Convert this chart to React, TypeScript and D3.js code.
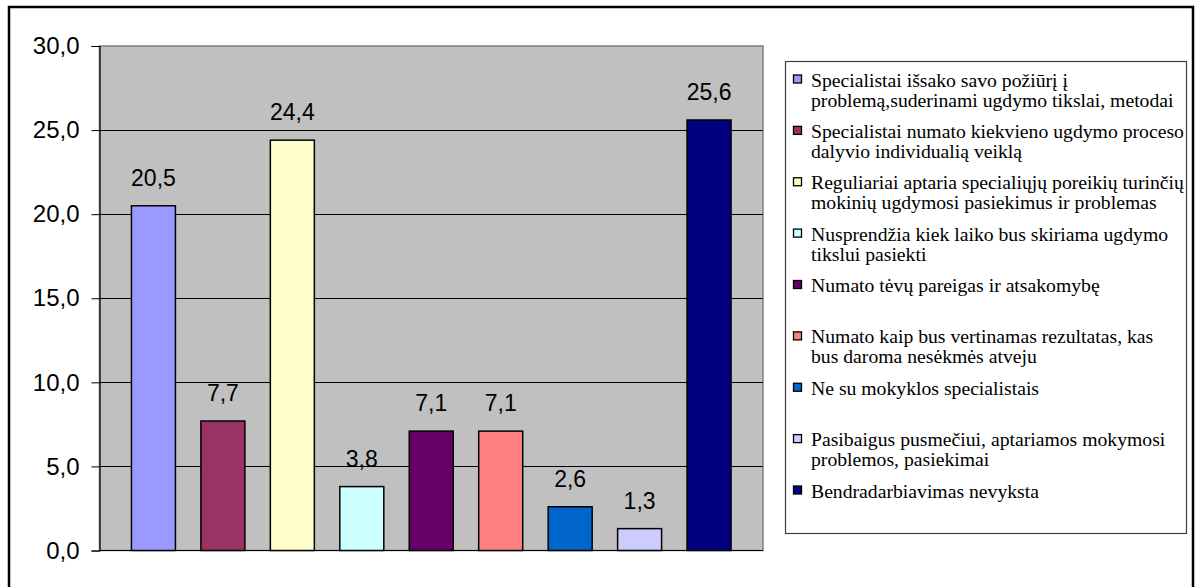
import React, { useEffect, useRef } from 'react';
import * as d3 from 'd3';

// series labels (legend) - line breaks as in the original legend
const seriesLabels = [
  'Specialistai išsako savo požiūrį į\nproblemą,suderinami ugdymo tikslai, metodai',
  'Specialistai numato kiekvieno ugdymo proceso\ndalyvio individualią veiklą',
  'Reguliariai aptaria specialiųjų poreikių turinčių\nmokinių ugdymosi pasiekimus ir problemas',
  'Nusprendžia kiek laiko bus skiriama ugdymo\ntikslui pasiekti',
  'Numato tėvų pareigas ir atsakomybę',
  'Numato kaip bus vertinamas rezultatas, kas\nbus daroma nesėkmės atveju',
  'Ne su mokyklos specialistais',
  'Pasibaigus pusmečiui, aptariamos mokymosi\nproblemos, pasiekimai',
  'Bendradarbiavimas nevyksta',
];
const seriesValues = [20.5, 7.7, 24.4, 3.8, 7.1, 7.1, 2.6, 1.3, 25.6];
const seriesColors = ['#9999FF', '#993366', '#FFFFCC', '#CCFFFF', '#660066', '#FF8080', '#0066CC', '#CCCCFF', '#000080'];
const yTicks = [0, 5, 10, 15, 20, 25, 30];

const W = 1197;
const H = 587;

const fmt = (v: number) => d3.format('.1f')(v).replace('.', ',');

const App: React.FC = () => {
  const svgRef = useRef<SVGSVGElement>(null);

  useEffect(() => {
    if (!svgRef.current) return;
    const svg = d3.select(svgRef.current);
    svg.selectAll('*').remove();

    // chart border
    svg.append('rect')
      .attr('x', 9).attr('y', 7)
      .attr('width', 1184).attr('height', 600)
      .attr('fill', '#fff')
      .attr('stroke', '#000')
      .attr('stroke-width', 2.5);

    // plot area
    const plot = { left: 99.5, right: 763, top: 46, bottom: 550.5 };

    const y = d3.scaleLinear().domain([0, 30]).range([plot.bottom, plot.top]);
    const x = d3.scaleBand<number>()
      .domain(d3.range(seriesValues.length))
      .range([plot.left, plot.right])
      .paddingInner(0.3666)
      .paddingOuter(0.46);

    svg.append('rect')
      .attr('x', plot.left).attr('y', plot.top)
      .attr('width', plot.right - plot.left)
      .attr('height', plot.bottom - plot.top)
      .attr('fill', '#C0C0C0')
      .attr('stroke', '#808080')
      .attr('stroke-width', 1.5);

    // gridlines
    svg.append('g')
      .selectAll('line')
      .data(yTicks.filter(t => t > 0 && t < 30))
      .join('line')
      .attr('x1', plot.left).attr('x2', plot.right)
      .attr('y1', d => Math.round(y(d)) + 0.5).attr('y2', d => Math.round(y(d)) + 0.5)
      .attr('stroke', '#000')
      .attr('stroke-width', 1);

    // y axis
    const yAxis = d3.axisLeft(y)
      .tickValues(yTicks)
      .tickSize(8)
      .tickPadding(12)
      .tickFormat(d => fmt(d as number));

    const ax = svg.append('g')
      .attr('transform', `translate(${plot.left}, 0)`)
      .call(yAxis);
    ax.select('.domain').attr('stroke', '#000').attr('stroke-width', 1.2);
    ax.selectAll('.tick line').attr('stroke', '#000');
    ax.selectAll('.tick text')
      .attr('font-family', 'Liberation Sans, Arial, sans-serif')
      .attr('font-size', '24px')
      .attr('fill', '#000');

    // x axis baseline
    svg.append('line')
      .attr('x1', plot.left).attr('x2', plot.right)
      .attr('y1', plot.bottom).attr('y2', plot.bottom)
      .attr('stroke', '#000')
      .attr('stroke-width', 1.2);

    // bars
    svg.append('g')
      .selectAll('rect')
      .data(seriesValues)
      .join('rect')
      .attr('x', (_, i) => x(i) || 0)
      .attr('y', d => y(d))
      .attr('width', x.bandwidth())
      .attr('height', d => plot.bottom - y(d))
      .attr('fill', (_, i) => seriesColors[i])
      .attr('stroke', '#000')
      .attr('stroke-width', 1.5);

    // value labels
    svg.append('g')
      .selectAll('text')
      .data(seriesValues)
      .join('text')
      .attr('x', (_, i) => (x(i) || 0) + x.bandwidth() / 2)
      .attr('y', d => y(d) - 20)
      .attr('text-anchor', 'middle')
      .attr('font-family', 'Liberation Sans, Arial, sans-serif')
      .attr('font-size', '23px')
      .attr('fill', '#000')
      .text(d => fmt(d));

    // legend
    svg.append('rect')
      .attr('x', 785.5).attr('y', 61.5)
      .attr('width', 401).attr('height', 472)
      .attr('fill', '#fff')
      .attr('stroke', '#404040')
      .attr('stroke-width', 1.2);

    const ly = d3.scaleLinear().domain([0, seriesLabels.length - 1]).range([86.5, 497.5]);

    const items = svg.append('g')
      .selectAll('g')
      .data(seriesLabels)
      .join('g')
      .attr('transform', (_, i) => `translate(0, ${ly(i)})`);

    items.append('rect')
      .attr('x', 793.5).attr('y', -11.5)
      .attr('width', 8).attr('height', 8)
      .attr('fill', (_, i) => seriesColors[i])
      .attr('stroke', '#000')
      .attr('stroke-width', 1.3);

    items.each(function (d) {
      const t = d3.select(this).append('text')
        .attr('font-family', 'Liberation Serif, Times New Roman, serif')
        .attr('font-size', '19.7px')
        .attr('fill', '#000');
      d.split('\n').forEach((line, k) => {
        t.append('tspan')
          .attr('x', 811)
          .attr('y', k * 20)
          .text(line);
      });
    });
  }, []);

  return (
    <div style={{ position: 'absolute', left: 0, top: 0, background: '#fff' }}>
      <svg ref={svgRef} width={W} height={H} style={{ display: 'block' }} />
    </div>
  );
};

export default App;
